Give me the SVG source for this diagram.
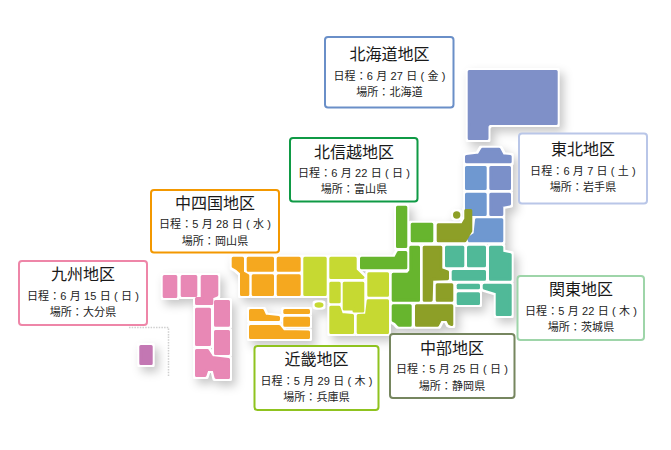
<svg xmlns="http://www.w3.org/2000/svg" width="671" height="450" viewBox="0 0 671 450">
<style>
text{font-family:"Liberation Sans","Noto Sans CJK JP",sans-serif;fill:#222;text-anchor:middle}
.t{font-size:16px;fill:#1a1a1a}
.d{font-size:11px;letter-spacing:.12px}
.box{fill:#fff;stroke-width:2}
.map rect,.map polygon,.map circle,.map ellipse{stroke-width:3;stroke-linejoin:round}
.hk *{fill:#7f90c8;stroke:#7f90c8}
.th1 *{fill:#6f98d0;stroke:#6f98d0}
.th2 *{fill:#7b90c9;stroke:#7b90c9}
.kt *{fill:#50b998;stroke:#50b998}
.cb1 *{fill:#67b52e;stroke:#67b52e}
.cb2 *{fill:#8d9f27;stroke:#8d9f27}
.kn *{fill:#c6d932;stroke:#c6d932}
.cs *{fill:#f5a81f;stroke:#f5a81f}
.ky *{fill:#e888b5;stroke:#e888b5}
.ok *{fill:#c377b3;stroke:#c377b3}
</style>
<defs>
<filter id="halo" filterUnits="userSpaceOnUse" x="0" y="0" width="671" height="450" color-interpolation-filters="sRGB">
<feMorphology in="SourceAlpha" operator="dilate" radius="2" result="fat"/>
<feGaussianBlur in="fat" stdDeviation="5" result="b"/>
<feOffset in="b" dx="4" dy="5" result="o"/>
<feFlood flood-color="#000" flood-opacity=".22"/>
<feComposite in2="o" operator="in" result="shadow"/>
<feFlood flood-color="#fff"/>
<feComposite in2="fat" operator="in" result="white"/>
<feMerge><feMergeNode in="shadow"/><feMergeNode in="white"/><feMergeNode in="SourceGraphic"/></feMerge>
</filter>
</defs>
<g id="okinawa-divider" fill="none" stroke="#cfcfcf" stroke-width="1.5" stroke-dasharray="1.5 1.2">
<path d="M129 327.5H168.5V376"/>
</g>
<g id="map" class="map" filter="url(#halo)">
<g id="map-hokkaido" class="hk"><polygon points="469.2,71.5 556.2,71.5 556.2,123.5 489,123.5 487,126 487,138.5 469.2,138.5"/></g>
<g id="map-tohoku">
<g class="th2"><polygon points="466.5,156.5 479,155 482.5,149.2 499,149.2 502.5,155.8 510.2,156.5 510.2,161.8 466.5,161.8"/>
<rect x="490.8" y="167.5" width="18.7" height="21"/>
<polygon points="490.8,194.2 509.5,194.2 509.5,204 501.8,205.5 501.8,214.5 490.8,214.5"/></g>
<g class="th1"><rect x="466.5" y="167.5" width="18.7" height="21"/>
<rect x="466.5" y="194.2" width="18.7" height="20.3"/>
<polygon points="476.5,219.8 501.8,219.8 501.8,240.8 469.5,240.8 468.5,238.5 475,234"/></g>
</g>
<g id="map-kanto" class="kt">
<rect x="446.5" y="247.2" width="16.3" height="18.6"/>
<rect x="468.5" y="247.2" width="16" height="18.6"/>
<polygon points="490.5,247.2 501.8,247.2 501.8,253 510.2,254.8 510.2,279.2 490.5,279.2"/>
<rect x="453.2" y="271.5" width="31.3" height="7.7"/>
<rect x="458.2" y="285.2" width="20.3" height="2.6"/>
<rect x="458.2" y="293.8" width="20.3" height="9.7"/>
<polygon points="484.2,285.2 510.2,285.2 510.2,314.5 497.2,314.5 497.2,292 484.2,288"/>
</g>
<g id="map-chubu">
<g class="cb1">
<rect x="397.5" y="207.2" width="8.3" height="39.3"/>
<rect x="412.2" y="224.2" width="19.6" height="16.6"/>
<polygon points="361.5,258.2 395.5,258.2 398.5,252.5 405.8,252.5 405.8,267.8 361.5,267.8"/>
<polygon points="410.8,247.2 418.5,247.2 418.5,300.2 393.2,300.2 393.2,274.2 408,274.2 410.8,271"/>
<polygon points="393.2,305.8 410.2,305.8 410.2,325.2 399,325.2 396,322 393.2,320.5"/>
</g>
<g class="cb2">
<polygon points="438.2,224.8 462.5,224.8 465.8,219 465.8,210.5 470.8,210.5 470.8,231 465,240.8 438.2,240.8"/>
<circle cx="456.7" cy="215" r="2.2"/>
<polygon points="424.2,247.2 440.8,247.2 440.8,269.5 447.5,272 447.5,278.8 431.8,279.2 431.2,300.2 424.2,300.2"/>
<rect x="437.2" y="284.8" width="14.6" height="15.4"/>
<polygon points="416.5,305.8 451.8,305.8 451.8,324.5 449.5,323.5 447.5,319.5 440.5,319.5 437.5,325.2 416.5,325.2"/>
</g>
</g>
<g id="map-kinki" class="kn">
<rect x="304.8" y="258.2" width="20.4" height="36.3"/>
<polygon points="330.8,258.2 355.2,258.2 355.2,270 363,277.5 330.8,277.5"/>
<rect x="368.8" y="273.8" width="18.7" height="21.4"/>
<rect x="330.8" y="283.2" width="8.4" height="18.6"/>
<polygon points="344.2,283.2 362.8,283.2 362.8,311 354,311 354,309 344.2,309"/>
<polygon points="330.8,307.2 339,307.2 341.5,314.5 352.5,315.5 352.5,332.5 330.8,332.5"/>
<polygon points="368.2,300.8 387.5,300.8 387.5,332.5 358.2,332.5 358.2,315.5 366.5,315"/>
<ellipse cx="319" cy="305" rx="3" ry="1.2"/>
</g>
<g id="map-chushikoku" class="cs">
<polygon points="233.2,258.2 242.5,258.2 242.5,272.5 247.8,275.5 247.8,294.5 241.5,294.5 241.5,272.5 237.5,269 233.2,266.5"/>
<rect x="248.2" y="258.2" width="24.3" height="12"/>
<rect x="278.2" y="258.2" width="21" height="12"/>
<rect x="253.2" y="275.8" width="19.3" height="18.7"/>
<rect x="278.2" y="275.8" width="21" height="18.7"/>
<polygon points="250.5,310.5 262.5,310.5 265,316 278.5,317.5 278.5,319.5 250.5,319.5"/>
<rect x="284.8" y="310.5" width="23.7" height="2"/>
<rect x="284.8" y="318.2" width="23.7" height="7"/>
<polygon points="250.5,326.5 279,326.5 283,331.5 308.5,332 308.5,337.5 250.5,337.5"/>
</g>
<g id="map-kyushu" class="ky">
<rect x="164.2" y="276.5" width="11.6" height="20"/>
<rect x="182.2" y="276.5" width="13.6" height="19"/>
<polygon points="202.2,276.5 216.8,276.5 216.8,295 211.8,297 211.8,303.5 196.5,303.5 196.5,298.5 202.2,298.5"/>
<rect x="215.5" y="301.5" width="13" height="23.7"/>
<rect x="196.5" y="309.2" width="13" height="35.3"/>
<rect x="215.5" y="331.5" width="13" height="22"/>
<polygon points="196.5,350.5 207.5,350.5 212,357.5 228.5,359.5 228.5,377.5 216,377.5 214,369.5 207,369.5 205,375.5 196.5,375.5"/>
</g>
<g id="map-okinawa" class="ok"><rect x="140.8" y="346.5" width="10.4" height="17"/></g>
</g>
<g id="label-hokkaido">
<rect class="box" x="325" y="37" width="128.5" height="70.5" rx="3" stroke="#6a8fc8"/>
<text class="t" x="389.5" y="60">北海道地区</text>
<text class="d" x="389.5" y="80">日程：6 月 27 日 ( 金 )</text>
<text class="d" x="389.5" y="96">場所：北海道</text>
</g>
<g id="label-hokushinetsu">
<rect class="box" x="290" y="138" width="127.5" height="63.5" rx="3" stroke="#0f9a45"/>
<text class="t" x="354" y="157.5">北信越地区</text>
<text class="d" x="354" y="176.5">日程：6 月 22 日 ( 日 )</text>
<text class="d" x="354" y="192.5">場所：富山県</text>
</g>
<g id="label-tohoku">
<rect class="box" x="519" y="133.5" width="128" height="70" rx="3" stroke="#b9c6e8"/>
<text class="t" x="583" y="155">東北地区</text>
<text class="d" x="583" y="174.5">日程：6 月 7 日 ( 土 )</text>
<text class="d" x="583" y="190.5">場所：岩手県</text>
</g>
<g id="label-chushikoku">
<rect class="box" x="151" y="190" width="128" height="62.5" rx="3" stroke="#f39800"/>
<text class="t" x="215" y="209">中四国地区</text>
<text class="d" x="215" y="228">日程：5 月 28 日 ( 水 )</text>
<text class="d" x="215" y="244.5">場所：岡山県</text>
</g>
<g id="label-kyushu">
<rect class="box" x="19" y="261" width="128" height="64" rx="3" stroke="#ee86a8"/>
<text class="t" x="83" y="280">九州地区</text>
<text class="d" x="83" y="299.5">日程：6 月 15 日 ( 日 )</text>
<text class="d" x="83" y="315.5">場所：大分県</text>
</g>
<g id="label-kanto">
<rect class="box" x="517.5" y="276" width="126.5" height="64" rx="3" stroke="#9ed5a9"/>
<text class="t" x="581" y="295">関東地区</text>
<text class="d" x="581" y="314.5">日程：5 月 22 日 ( 木 )</text>
<text class="d" x="581" y="330.5">場所：茨城県</text>
</g>
<g id="label-chubu">
<rect class="box" x="390" y="334" width="124.5" height="64" rx="3" stroke="#76865f"/>
<text class="t" x="452" y="354">中部地区</text>
<text class="d" x="452" y="373">日程：5 月 25 日 ( 日 )</text>
<text class="d" x="452" y="389.5">場所：静岡県</text>
</g>
<g id="label-kinki">
<rect class="box" x="254.5" y="346" width="124" height="64" rx="3" stroke="#8fc31f"/>
<text class="t" x="316.5" y="365">近畿地区</text>
<text class="d" x="316.5" y="384.5">日程：5 月 29 日 ( 木 )</text>
<text class="d" x="316.5" y="400.5">場所：兵庫県</text>
</g>
</svg>
